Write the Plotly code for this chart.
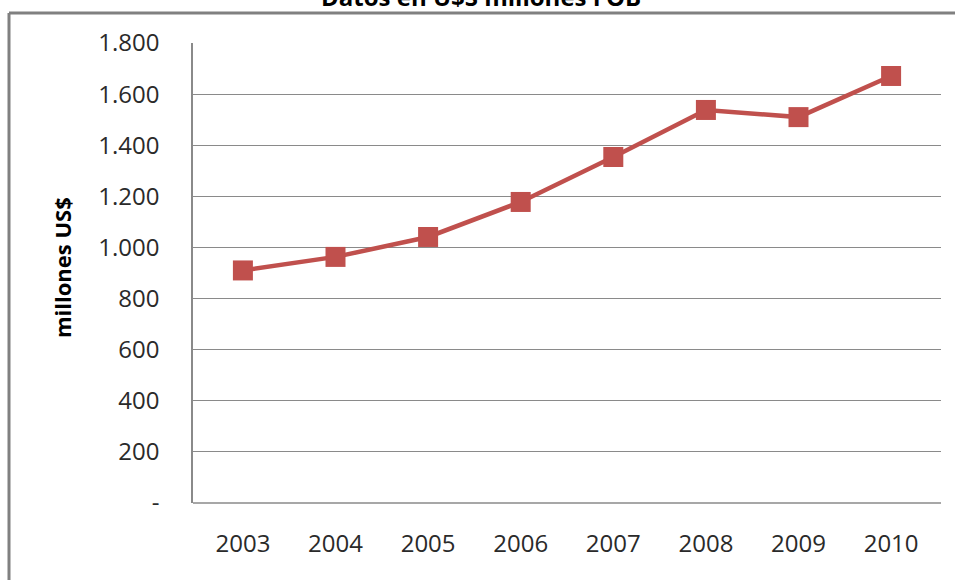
import plotly.graph_objects as go

years = ["2003", "2004", "2005", "2006", "2007", "2008", "2009", "2010"]
values = [910, 963, 1041, 1178, 1354, 1538, 1510, 1671]
ytick_vals = [0, 200, 400, 600, 800, 1000, 1200, 1400, 1600, 1800]
ytick_text = ["-", "200", "400", "600", "800", "1.000", "1.200", "1.400", "1.600", "1.800"]

W, H = 955, 580
ml, mr, mt, mb = 193, 14, 43, 77
pw, ph = W - ml - mr, H - mt - mb

def px_x(x):
    return (x - ml) / pw

def px_y(y):
    return (H - mb - y) / ph

fig = go.Figure()
fig.add_trace(go.Scatter(
    x=years, y=values, mode="lines+markers",
    line=dict(color="#C0504D", width=4.5),
    marker=dict(symbol="square", size=20, color="#C0504D"),
    showlegend=False,
))

font = "'Open Sans', Lato, sans-serif"
border = dict(color="#808080", width=3)
fig.update_layout(
    width=W, height=H,
    margin=dict(l=ml, r=mr, t=mt, b=mb, autoexpand=False),
    paper_bgcolor="white", plot_bgcolor="white",
    font=dict(family=font, size=24, color="#2a2a2a"),
    xaxis=dict(type="category", showgrid=False, showline=False, zeroline=False,
               automargin=False, ticks="", ticklabelstandoff=24,
               tickfont=dict(size=24, color="#2a2a2a")),
    yaxis=dict(range=[0, 1800], tickvals=ytick_vals, ticktext=ytick_text,
               showgrid=True, gridcolor="#8a8a8a", gridwidth=1,
               showline=True, linecolor="#8a8a8a", linewidth=1.5,
               zeroline=False, automargin=False, ticks="", ticklabelstandoff=27,
               tickfont=dict(size=24, color="#2a2a2a")),
    annotations=[
        dict(text="<b>Datos en U$S millones FOB</b>", xref="paper", yref="paper",
             x=px_x(481), y=px_y(-4), xanchor="center", yanchor="middle",
             showarrow=False, font=dict(size=24, color="black", family=font)),
        dict(text="<b>millones US$</b>", xref="paper", yref="paper",
             x=px_x(62), y=px_y(268), xanchor="center", yanchor="middle",
             textangle=-90, showarrow=False,
             font=dict(size=22, color="black", family=font)),
    ],
    shapes=[
        dict(type="line", xref="paper", yref="paper", layer="above",
             x0=px_x(9), x1=px_x(955), y0=px_y(13), y1=px_y(13), line=border),
        dict(type="line", xref="paper", yref="paper", layer="above",
             x0=px_x(9), x1=px_x(9), y0=px_y(13), y1=px_y(580), line=border),
        dict(type="line", xref="paper", yref="paper",
             x0=0, x1=1, y0=0, y1=0, line=dict(color="#8a8a8a", width=1.5)),
    ],
)

fig.write_html("out.html", config={"displayModeBar": False},
               post_script="document.body.style.margin='0';")
